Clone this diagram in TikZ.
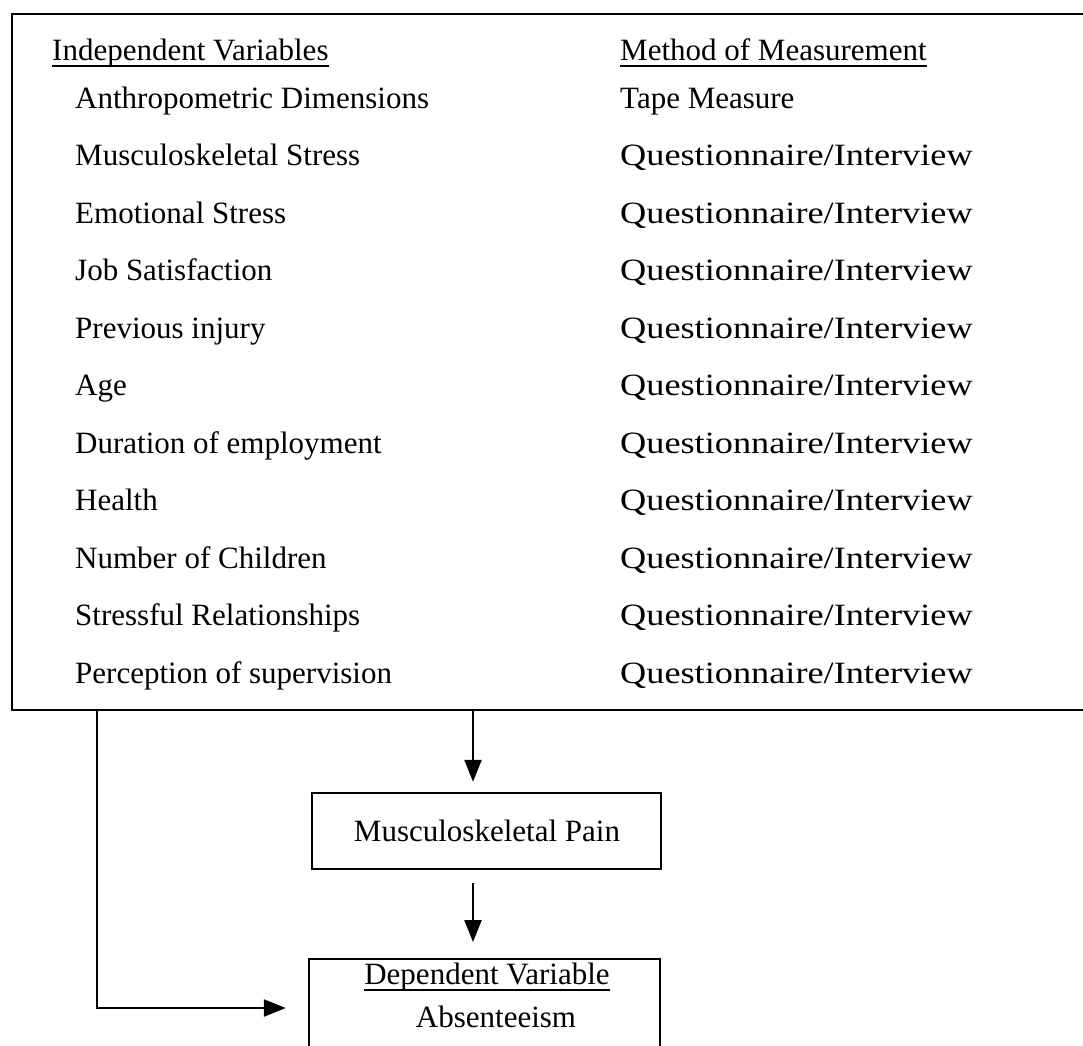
\documentclass[tikz,border=0pt]{standalone}
\usepackage{fontspec}
\usepackage{graphicx}
\setmainfont{Liberation Serif}
\newcommand{\qitext}{\scalebox{1.17}[1]{Questionnaire/Interview}}
\usetikzlibrary{arrows.meta}
\begin{document}
\begin{tikzpicture}[x=1pt,y=-1pt,
  txt/.style={font=\fontsize{31}{37}\selectfont, inner sep=0pt, anchor=base west},
  ctxt/.style={font=\fontsize{31}{37}\selectfont, inner sep=0pt, anchor=base},
  box/.style={draw, line width=2.4pt, inner sep=0pt},
  arr/.style={line width=2.4pt, -{Triangle[length=22pt,width=17pt]}},
  ul/.style={line width=1.8pt}]
\useasboundingbox (0,0) rectangle (1083,1045);
\fill[white] (0,0) rectangle (1083,1045);
% big box
\node[box, minimum width=1080pt, minimum height=696pt, anchor=north west] (ivbox) at (11,13) {};
% headers
\node[txt] (ivh) at (52,60) {Independent Variables};
\node[txt] (mmh) at (620,60) {Method of Measurement};
\draw[ul] ([yshift=-6pt]ivh.base west) -- ([yshift=-6pt]ivh.base east);
\draw[ul] ([yshift=-6pt]mmh.base west) -- ([yshift=-6pt]mmh.base east);
% rows
\foreach \i/\l/\m in {0/Anthropometric Dimensions/Tape Measure,
  1/Musculoskeletal Stress/\qitext,
  2/Emotional Stress/\qitext,
  3/Job Satisfaction/\qitext,
  4/Previous injury/\qitext,
  5/Age/\qitext,
  6/Duration of employment/\qitext,
  7/Health/\qitext,
  8/Number of Children/\qitext,
  9/Stressful Relationships/\qitext,
  10/Perception of supervision/\qitext}{
  \node[txt] (r\i) at (75,{108+57.5*\i}) {\l};
  \node[txt] (m\i) at (620,{108+57.5*\i}) {\m};
}
% middle box
\node[box, minimum width=349pt, minimum height=76pt] (mp) at (486.5,831) {};
\node[ctxt] (mpt) at (487,841) {Musculoskeletal Pain};
% dependent box
\node[box, minimum width=351pt, minimum height=110pt, anchor=north] (dep) at (484.5,958) {};
\node[ctxt] (dvh) at (487,984) {Dependent Variable};
\draw[ul] ([yshift=-6pt]dvh.base west) -- ([yshift=-6pt]dvh.base east);
\node[ctxt] (abs) at (496,1027) {Absenteeism};
% connectors
\coordinate (ax) at (473,0);
\coordinate (lx) at (97,0);
\coordinate (hy) at (0,1008);
\draw[arr, shorten >=10pt] (ivbox.south -| ax) -- (mp.north -| ax);
\draw[arr, shorten <=13pt, shorten >=16pt] (mp.south -| ax) -- (dep.north -| ax);
\draw[arr, shorten >=22pt] (ivbox.south -| lx) |- (dep.west |- hy);
\end{tikzpicture}
\end{document}
